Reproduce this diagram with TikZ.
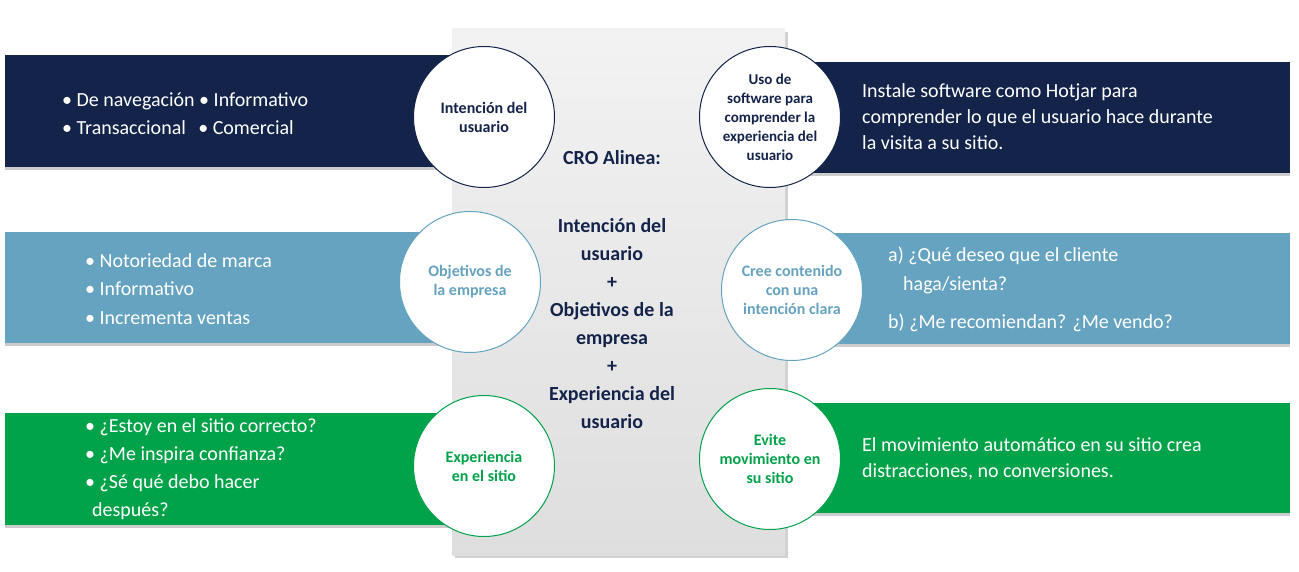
\documentclass[tikz,border=0pt]{standalone}
\usepackage{fontspec}
\setmainfont{Carlito}
\begin{document}
\begin{tikzpicture}[x=1pt,y=-1pt,
  band/.style={draw=none},
  circ/.style={circle,fill=white,draw=#1,line width=1pt,minimum size=141pt,inner sep=0pt,align=center,text=#1,font=\fontsize{16}{19}\selectfont\bfseries},
  btxt/.style={anchor=west,text=white,font=\fontsize{20}{28}\selectfont,align=left,inner sep=0pt},
  ctr/.style={text=navy,font=\fontsize{20}{24}\selectfont\bfseries,align=center}]
\definecolor{navy}{HTML}{13234A}
\definecolor{cblue}{HTML}{65A3C0}
\definecolor{cgreen}{HTML}{00A24A}
\useasboundingbox (0,0) rectangle (1299,572);
% panel
\fill[black!18] (455,32) rectangle (788,558);
\shade[top color=black!5,bottom color=black!13] (452,29) rectangle (785,555);
% bands with shadows
\foreach \ya/\yb/\c in {55/167/navy,232/343/cblue,413/525/cgreen}{
  \fill[black!20] (5,\ya+3) rectangle (480,\yb+3);
  \fill[\c] (5,\ya) rectangle (480,\yb);}
\foreach \ya/\yb/\c in {62/173/navy,233/344/cblue,403/513/cgreen}{
  \fill[black!20] (770,\ya+3) rectangle (1290,\yb+3);
  \fill[\c] (770,\ya) rectangle (1290,\yb);}
% circles
\node[circ=navy] (c1) at (484,117) {Intención del\\usuario};
\node[circ=navy,font=\fontsize{15}{19}\selectfont\bfseries] (c2) at (770,117) {Uso de\\software para\\comprender la\\experiencia del\\usuario};
\node[circ=cblue] (c3) at (470,282) {Objetivos de\\la empresa};
\node[circ=cblue] (c4) at (792,290) {Cree contenido\\con una\\intención clara};
\node[circ=cgreen] (c5) at (484,466) {Experiencia\\en el sitio};
\node[circ=cgreen] (c6) at (770,459) {Evite\\movimiento en\\su sitio};
% center text
\node[ctr] (t0) at (612,158) {CRO Alinea:};
\node[ctr,font=\fontsize{20}{28}\selectfont\bfseries] (t1) at (612,324) {Intención del\\usuario\\+\\Objetivos de la\\empresa\\+\\Experiencia del\\usuario};
% band texts
\node[btxt] (l1) at (62,114) {• De navegación • Informativo\\• Transaccional \ \,• Comercial};
\node[btxt,font=\fontsize{20}{28.5}\selectfont] (l2) at (85,289) {• Notoriedad de marca\\• Informativo\\• Incrementa ventas};
\node[btxt,font=\fontsize{20}{28}\selectfont] (l3) at (85,469) {• ¿Estoy en el sitio correcto?\\• ¿Me inspira confianza?\\• ¿Sé qué debo hacer\\\hspace*{7pt}después?};
\node[btxt,font=\fontsize{20}{26}\selectfont] (r1) at (862,117) {Instale software como Hotjar para\\comprender lo que el usuario hace durante\\la visita a su sitio.};
\node[btxt,font=\fontsize{20}{29}\selectfont] (r2) at (888,270) {a) ¿Qué deseo que el cliente\\\hspace*{15pt}haga/sienta?};
\node[btxt] (r3) at (888,323) {b) ¿Me recomiendan? ¿Me vendo?};
\node[btxt,font=\fontsize{20}{26}\selectfont] (r4) at (862,459) {El movimiento automático en su sitio crea\\distracciones, no conversiones.};
\end{tikzpicture}
\end{document}
